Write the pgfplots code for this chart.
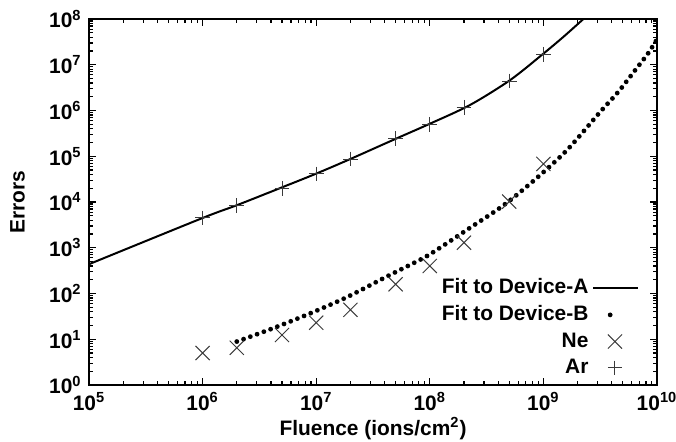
\documentclass[border=0pt]{standalone}
\usepackage{fontspec}
\setmainfont{Liberation Sans}
\usepackage{pgfplots}
\pgfplotsset{compat=1.18}
\usetikzlibrary{calc}
\definecolor{mk}{HTML}{3A3A3A}

\begin{document}
\fontsize{10.5}{12.6}\selectfont\bfseries
\begin{tikzpicture}
\begin{loglogaxis}[
  scale only axis, width=284bp, height=183bp,
  xmin=1e5, xmax=1e10, ymin=1, ymax=1e8,
  axis line style={line width=1bp},
  tick style={black, line width=0.6bp},
  major tick length=3.5bp, minor tick length=2.2bp,
  tick align=inside,
  xtick={1e5,1e6,1e7,1e8,1e9,1e10},
  minor xtick={2e5,3e5,4e5,5e5,6e5,7e5,8e5,9e5,
    2e6,3e6,4e6,5e6,6e6,7e6,8e6,9e6,
    2e7,3e7,4e7,5e7,6e7,7e7,8e7,9e7,
    2e8,3e8,4e8,5e8,6e8,7e8,8e8,9e8,
    2e9,3e9,4e9,5e9,6e9,7e9,8e9,9e9},
  xticklabels={10\textsuperscript{5},10\textsuperscript{6},10\textsuperscript{7},10\textsuperscript{8},10\textsuperscript{9},10\textsuperscript{10}},
  ytick={1,1e1,1e2,1e3,1e4,1e5,1e6,1e7,1e8},
  minor ytick={2,3,4,5,6,7,8,9,
    20,30,40,50,60,70,80,90,
    200,300,400,500,600,700,800,900,
    2e3,3e3,4e3,5e3,6e3,7e3,8e3,9e3,
    2e4,3e4,4e4,5e4,6e4,7e4,8e4,9e4,
    2e5,3e5,4e5,5e5,6e5,7e5,8e5,9e5,
    2e6,3e6,4e6,5e6,6e6,7e6,8e6,9e6,
    2e7,3e7,4e7,5e7,6e7,7e7,8e7,9e7},
  yticklabels={10\textsuperscript{0},10\textsuperscript{1},10\textsuperscript{2},10\textsuperscript{3},10\textsuperscript{4},10\textsuperscript{5},10\textsuperscript{6},10\textsuperscript{7},10\textsuperscript{8}},
  tick label style={font=\fontsize{10.5}{12}\selectfont\bfseries},
  xlabel={Fluence (ions/cm\textsuperscript{2})},
  ylabel={Errors},
  label style={font=\fontsize{10.5}{12}\selectfont\bfseries},
  xlabel style={yshift=4bp},
  ylabel style={yshift=5bp},
  legend plot pos=right,
  legend cell align=right,
  legend style={draw=none, fill=none, at={(1,0)}, anchor=south east,
    xshift=-6bp, yshift=0bp, row sep=0.4bp,
    font=\fontsize{10.5}{12}\selectfont\bfseries},
]
\addplot[black, line width=1bp, smooth, tension=0.5,
  legend image code/.code={\draw[black, line width=1bp] (0cm,0cm) -- (0.78cm,0cm);}]
  coordinates {
(1e5,437)(1e6,4470)(2e6,8500)(5e6,20900)(1e7,41700)(2e7,87100)(5e7,240000)
(1e8,513000)(2.26e8,1.32e6)(5.08e8,4.6e6)(9.86e8,1.7e7)
(1.5e9,4.07e7)(2.25e9,1e8)
};
\addlegendentry{Fit to Device-A}
\addplot[black, line width=2.4bp, line cap=round, dash pattern=on 0pt off 3.6bp, smooth,
  legend image code/.code={\node[circle, fill=black, draw=none, inner sep=0pt, minimum size=2.4bp] at (0.38cm,0cm) {};}]
  coordinates {
(2.0e6,8.9)(4.17e6,17.4)(8.9e6,37)(1.86e7,83)(4.17e7,234)(8.7e7,589)
(1.23e8,1000)(2.24e8,2690)(4.47e8,8510)(8.7e8,3.31e4)(1.62e9,1.38e5)
(3.16e9,9.3e5)(4.57e9,2.57e6)(6.46e9,7.76e6)(8.3e9,1.74e7)(1e10,3.6e7)
};
\addlegendentry{Fit to Device-B}
\addplot[only marks, mark=x, mark size=5bp, mk, mark options={line width=0.5bp},
  legend image code/.code={\draw[mark=x, mark size=5bp, mk, line width=0.5bp] plot coordinates {(0.38cm,0cm)};}]
  coordinates {
(1e6,5.0)(2e6,6.5)(5e6,12.4)(1e7,23)(2e7,44)(5e7,159)(1e8,400)(2e8,1290)(5e8,1.02e4)(1e9,6.8e4)
};
\addlegendentry{Ne}
\addplot[only marks, mark=+, mark size=3.7bp, mk, mark options={line width=0.5bp},
  legend image code/.code={\draw[mark=+, mark size=3.6bp, mk, line width=0.5bp] plot coordinates {(0.38cm,0cm)};}]
  coordinates {
(1e6,4470)(2e6,8300)(5e6,2.0e4)(1e7,4.1e4)(2e7,8.7e4)(5e7,2.4e5)(1e8,5.0e5)(2e8,1.18e6)(5e8,4.4e6)(1e9,1.7e7)
};
\addlegendentry{Ar}
\coordinate (sw) at (rel axis cs:0,0);
\coordinate (ne) at (rel axis cs:1,1);
\end{loglogaxis}
\pgfresetboundingbox
\path[use as bounding box] ($(sw)+(-44.5bp,-28.5bp)$) rectangle ($(ne)+(9.5bp,9.5bp)$);
\end{tikzpicture}
\end{document}
